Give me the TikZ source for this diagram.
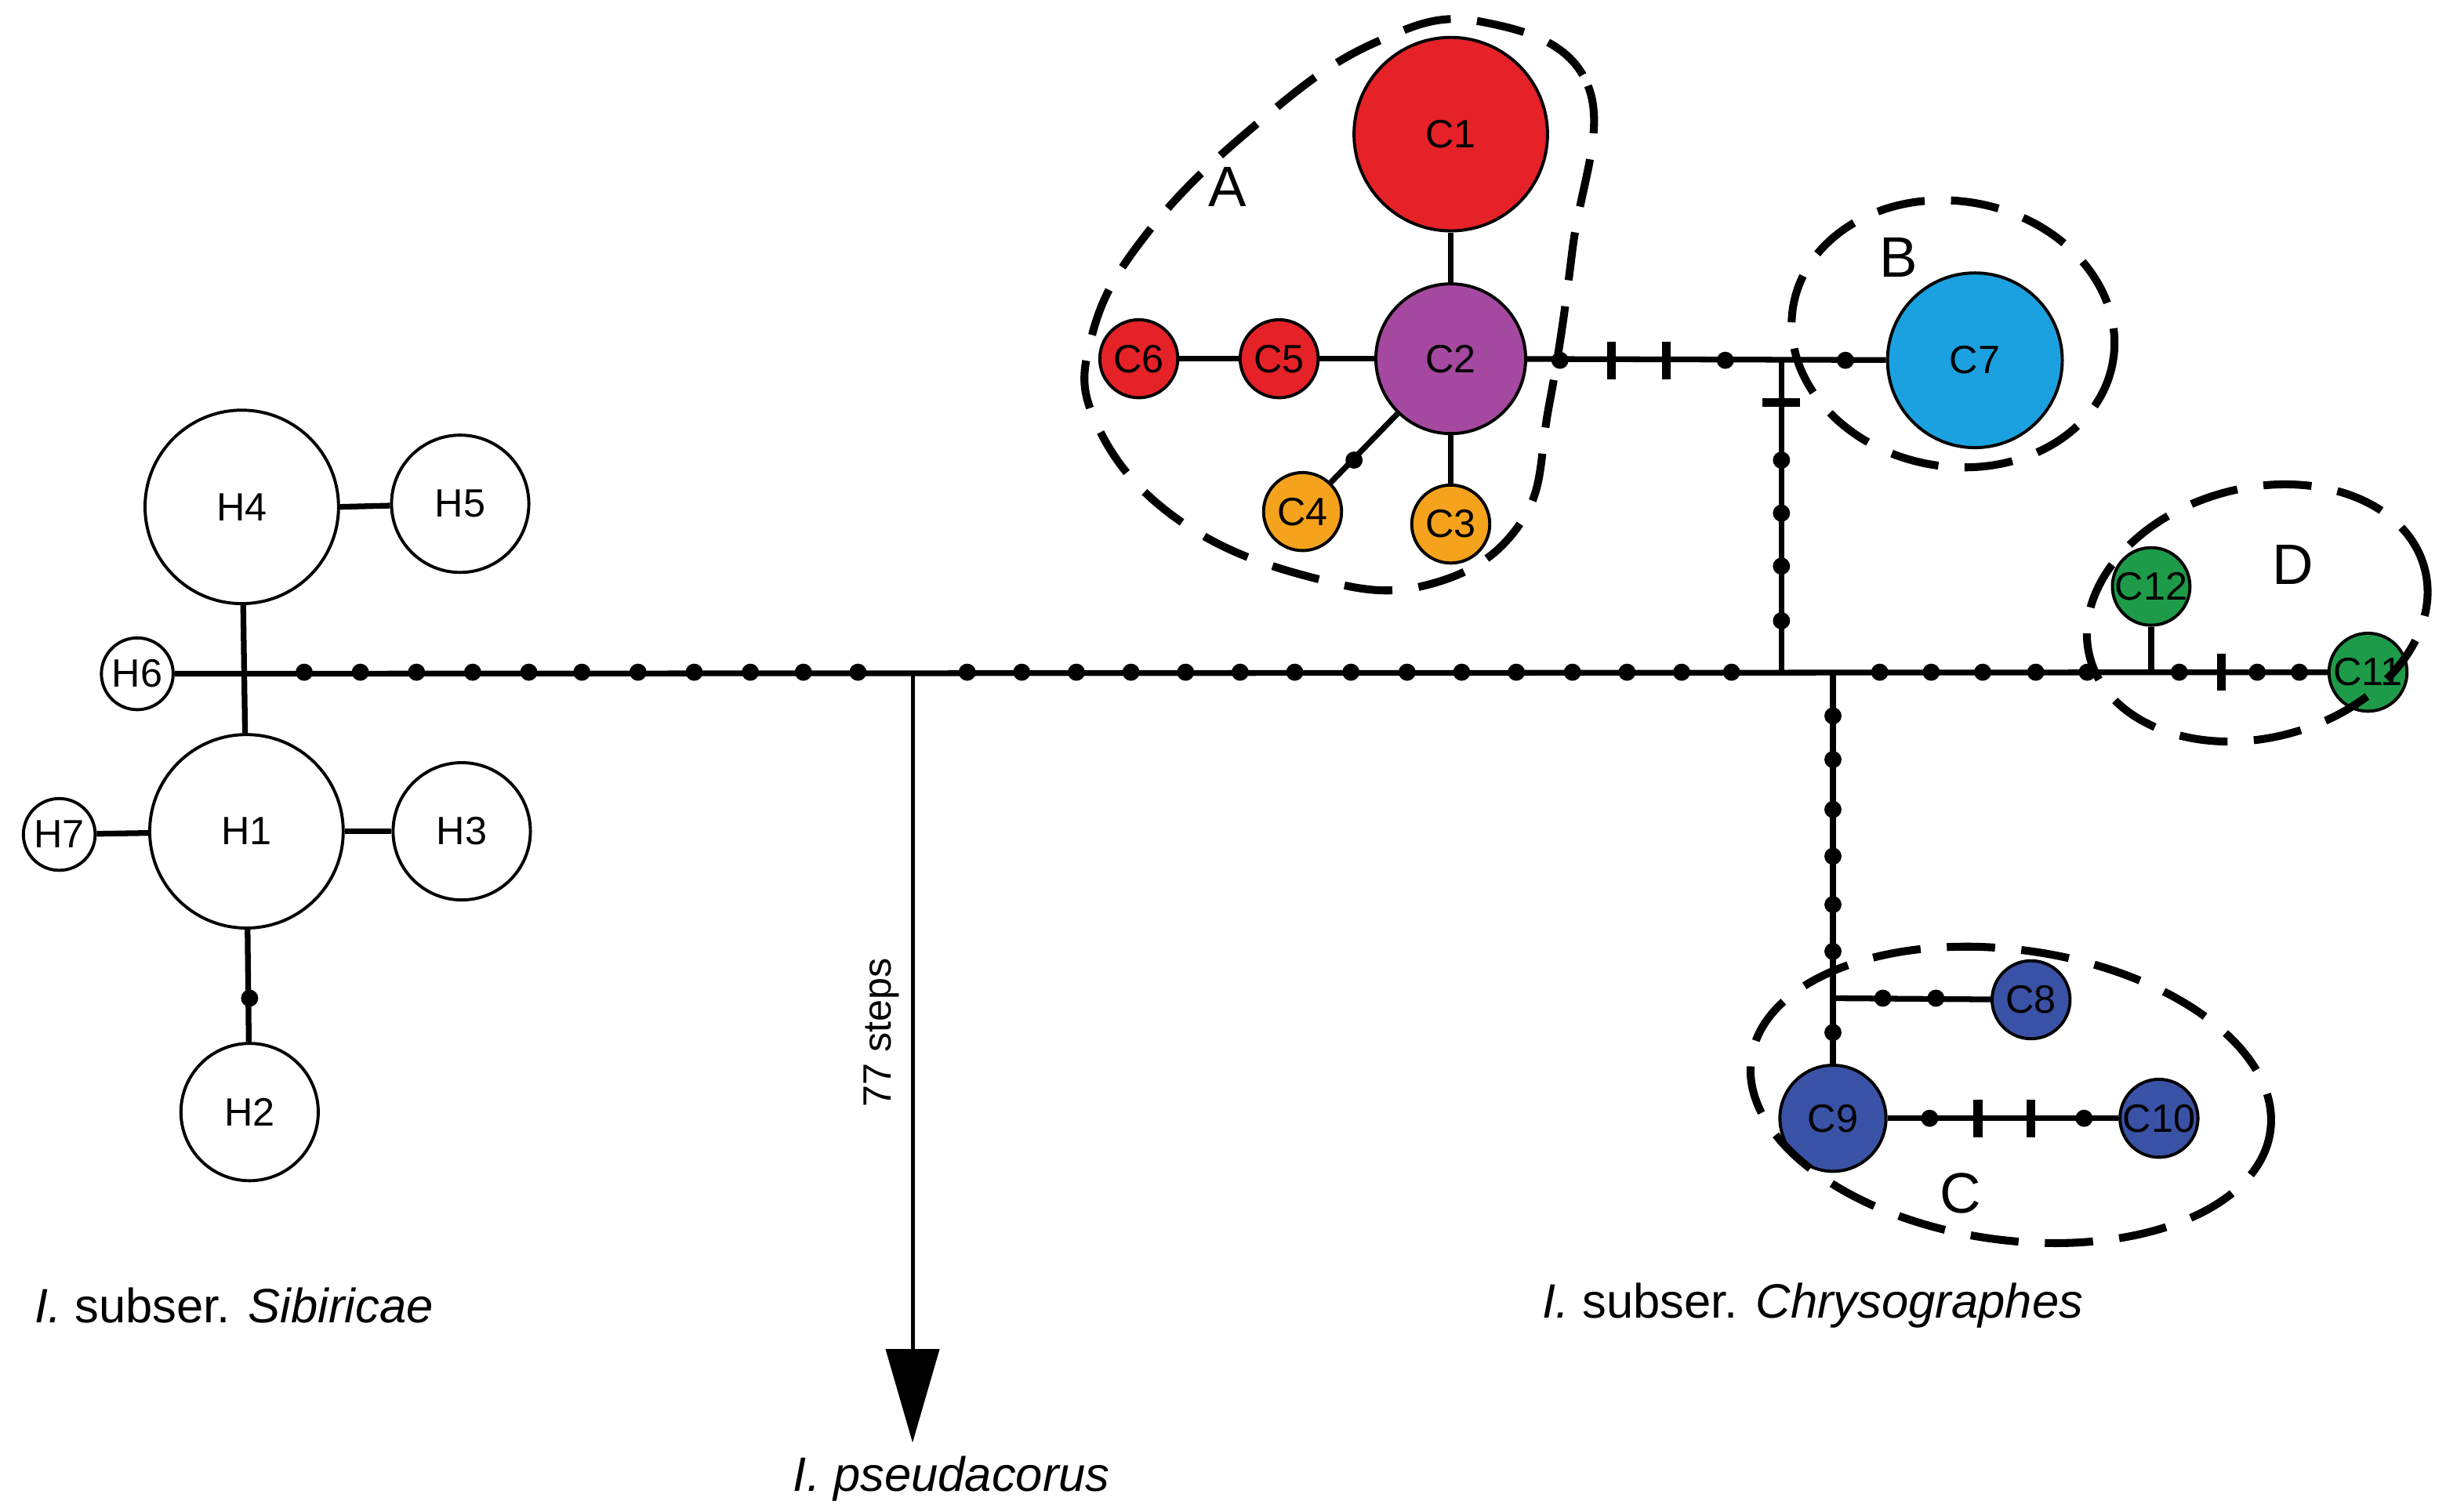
\documentclass[tikz,border=0pt]{standalone}
\usepackage{fontspec}
\setmainfont{Liberation Sans}
\usetikzlibrary{arrows.meta}
\begin{document}
\begin{tikzpicture}[x=0.025cm,y=-0.025cm,
  hap/.style={circle,draw,line width=1.4pt,inner sep=0pt,font=\fontsize{18}{18}\selectfont,minimum size=#1*0.05cm},
  edge/.style={line width=2.6pt},
  grp/.style={line width=3.6pt,dash pattern=on 22pt off 12pt},
  glab/.style={font=\fontsize{26}{26}\selectfont},
  tick/.style={line width=4pt},
  txt/.style={font=\fontsize{22}{22}\selectfont}]
\definecolor{cred}{HTML}{E52228}
\definecolor{cpur}{HTML}{A5489F}
\definecolor{corg}{HTML}{F5A21C}
\definecolor{clb}{HTML}{1BA1DF}
\definecolor{cdb}{HTML}{3A52A5}
\definecolor{cgr}{HTML}{1E9B48}
\useasboundingbox (0,0) rectangle (1568,969);
% H nodes
\node[hap=62] (H4) at (155,325) {H4};
\node[hap=44] (H5) at (295,323) {H5};
\node[hap=23] (H6) at (88,432) {H6};
\node[hap=62] (H1) at (158,533) {H1};
\node[hap=23] (H7) at (38,535) {H7};
\node[hap=44] (H3) at (296,533) {H3};
\node[hap=44] (H2) at (160,713) {H2};
% C nodes
\node[hap=62,fill=cred] (C1) at (930,86) {C1};
\node[hap=48,fill=cpur] (C2) at (930,230) {C2};
\node[hap=25,fill=cred] (C5) at (820,230) {C5};
\node[hap=25,fill=cred] (C6) at (730,230) {C6};
\node[hap=25,fill=corg] (C4) at (835,328) {C4};
\node[hap=25,fill=corg] (C3) at (930,336) {C3};
\node[hap=56,fill=clb] (C7) at (1266,231) {C7};
\node[hap=24,fill=cgr] (C12) at (1379,376) {C12};
\node[hap=25,fill=cgr] (C11) at (1518,431) {C11};
\node[hap=34,fill=cdb] (C9) at (1175,717) {C9};
\node[hap=25,fill=cdb] (C8) at (1302,641) {C8};
\node[hap=25,fill=cdb] (C10) at (1384,717) {C10};
% junctions
\coordinate (jH) at (158,431);
\coordinate (jP) at (585,431);
\coordinate (jV) at (1142,431);
\coordinate (jT) at (1142,231);
\coordinate (jD) at (1175,431);
\coordinate (jB) at (1175,640);
\coordinate (j12) at (1379,431);
\coordinate (pEnd) at (585,925);
% edges
\draw[edge] (H6) -- (C11);
\draw[edge] (H4) -- (H1);
\draw[edge] (H4.east) -- (H5);
\draw[edge] (H1) -- (H3);
\draw[edge] (H1) -- (H7);
\draw[edge] (H1) -- (H2);
\draw[edge] (C1) -- (C2);
\draw[edge] (C6) -- (C5) -- (C2);
\draw[edge] (C2) -- (C4);
\draw[edge] (C2) -- (C3);
\draw[edge] (C2) -- (C7);
\draw[edge] (jT) -- (jV);
\draw[edge] (jD) -- (C9);
\draw[edge] (jB) -- (C8);
\draw[edge] (C9) -- (C10);
\draw[edge] (C12) -- (j12);
\draw[line width=1.8pt,-{Triangle[length=1.5cm,width=0.85cm]}] (jP) -- (pEnd);
\node[font=\fontsize{18}{18}\selectfont,rotate=90] (st) at (565,662) {77 steps};
% dots
\foreach \x in {195,231,267,303,339,373,409,445,481,515,550,
  620,655,690,725,760,795,830,866,902,937,972,1008,1043,1078,1110,
  1205,1238,1271,1305,1338,1397,1447,1474}
  \fill (\x,431) circle (5.5);
\foreach \y in {295,329,363,398} \fill (1142,\y) circle (5.5);
\foreach \y in {459,487,519,549,580,610,662} \fill (1175,\y) circle (5.5);
\foreach \x in {1207,1241} \fill (\x,640) circle (5.5);
\foreach \x in {1000,1106,1183} \fill (\x,231) circle (5.5);
\foreach \x in {1237,1336} \fill (\x,717) circle (5.5);
\fill (160,640) circle (5.5);
\fill (868,295) circle (5.5);
% ticks
\foreach \x in {1033,1068} \draw[tick] (\x,219) -- (\x,243);
\draw[tick] (1130,258) -- (1154,258);
\draw[tick] (1424,419) -- (1424,443);
\foreach \x in {1268,1302} \draw[tick] (\x,705) -- (\x,729);
% groups
\draw[grp] plot[smooth cycle,tension=0.7] coordinates {(950,14) (1018,55) (1008,160) (993,260) (975,335) (915,375) (840,370) (755,333) (703,272) (700,215) (735,150) (805,80) (880,28)};
\draw[grp,rotate around={-10:(1252,214)}] (1252,214) ellipse (104 and 85);
\draw[grp,rotate around={-8:(1289,702)}] (1289,702) ellipse (168 and 93);
\draw[grp,rotate around={15:(1447,393)}] (1447,393) ellipse (111 and 80);
\node[glab] (lA) at (787,120) {A};
\node[glab] (lB) at (1217,165) {B};
\node[glab] (lC) at (1257,765) {C};
\node[glab] (lD) at (1470,362) {D};
% texts
\node[txt] (t1) at (150,837) {\textit{I.} subser. \textit{Sibiricae}};
\node[txt] (t2) at (1162,837) {\textit{I.} subser. \textit{Chrysographes}};
\node[txt] (t3) at (610,948) {\textit{I. pseudacorus}};
\end{tikzpicture}
\end{document}
